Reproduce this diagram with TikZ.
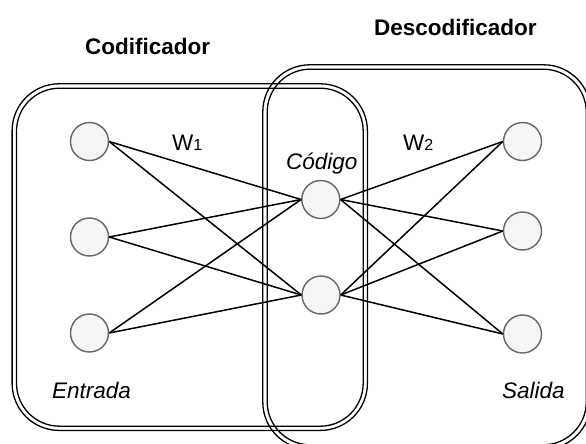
\documentclass[tikz,border=0pt]{standalone}
\usepackage{fontspec}
\setmainfont{Liberation Sans}
\begin{document}
\begin{tikzpicture}[x=1pt,y=-1pt,
  neuron/.style={circle,draw=black!60,fill=black!4,line width=1.4pt,minimum size=38pt,inner sep=0pt},
  link/.style={draw=black,line width=1.5pt},
  frame/.style={draw=black,line width=1.3pt},
  title/.style={font=\fontsize{22.5}{26}\selectfont\bfseries,anchor=base west,inner sep=0pt},
  tag/.style={font=\fontsize{22.5}{26}\selectfont\itshape,anchor=base west,inner sep=0pt},
  weight/.style={font=\fontsize{22.5}{26}\selectfont,anchor=base west,inner sep=0pt}]
\path[use as bounding box] (0,0) rectangle (586,444);
\begin{scope}
\clip (0,0) rectangle (586,444);

% encoder frame (double outline)
\draw[frame,rounded corners=47pt] (12.1,83.8) rectangle (367.4,430.4);
\draw[frame,rounded corners=43pt] (16.5,88.2) rectangle (363.2,426.2);
% decoder frame (double outline)
\draw[frame,rounded corners=47pt] (262.8,64.8) rectangle (590.7,449.2);
\draw[frame,rounded corners=43pt] (267.2,69.2) rectangle (586.3,444.8);

% neurons
\node[neuron] (l1) at (89.5,141.5) {};
\node[neuron] (l2) at (89.5,237) {};
\node[neuron] (l3) at (89.5,333) {};
\node[neuron] (m1) at (320.8,199.5) {};
\node[neuron] (m2) at (321,295) {};
\node[neuron] (r1) at (522.5,141.5) {};
\node[neuron] (r2) at (522.5,231) {};
\node[neuron] (r3) at (522.5,334) {};

% connections
\foreach \a in {l1,l2,l3}
  \foreach \b in {m1,m2}
    \draw[link] (\a.east) -- (\b.west);
\foreach \a in {m1,m2}
  \foreach \b in {r1,r2,r3}
    \draw[link] (\a.east) -- (\b.west);

% labels
\node[title] (enc) at (85,55) {Codificador};
\node[title] (dec) at (374,36) {Descodificador};
\node[weight] (w1) at (172,150) {W{\fontsize{16}{18}\selectfont 1}};
\node[weight] (w2) at (403,150) {W{\fontsize{16}{18}\selectfont 2}};
\node[tag] (code) at (286,169) {Código};
\node[tag] (inp) at (52,398) {Entrada};
\node[tag] (out) at (502,398) {Salida};
\end{scope}
\end{tikzpicture}
\end{document}
